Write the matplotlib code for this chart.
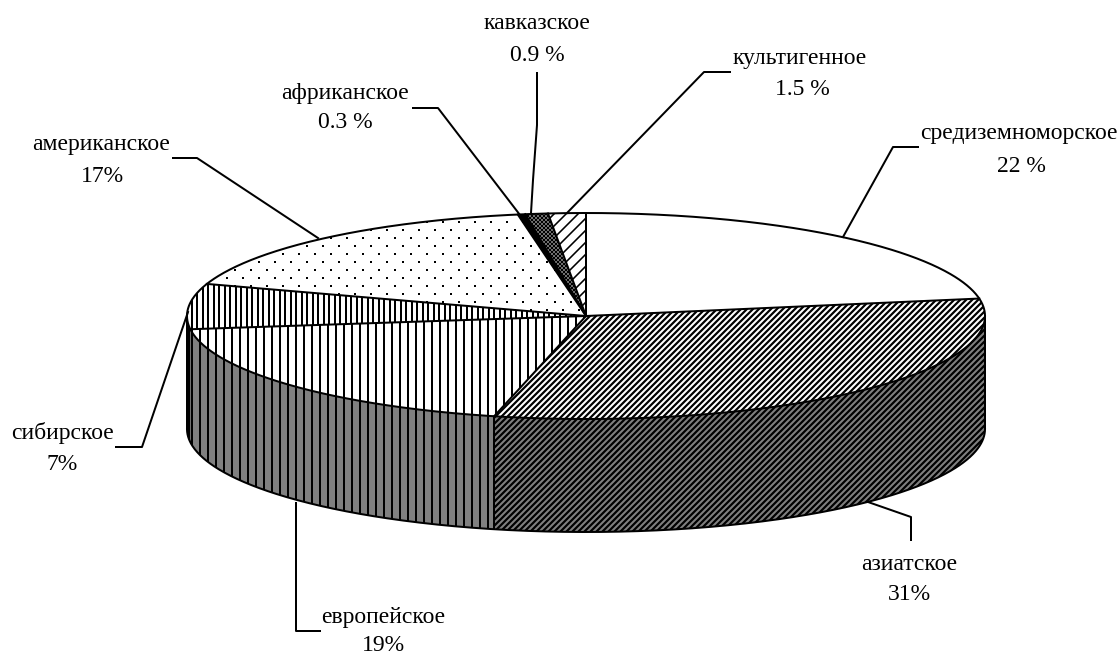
import numpy as np
import matplotlib
matplotlib.use('Agg')
import matplotlib.pyplot as plt
from matplotlib.patches import Polygon
from matplotlib.collections import LineCollection

plt.rcParams['font.family'] = ['Liberation Serif', 'DejaVu Serif']

# Chart values, clockwise from 12 o'clock
names = ['средиземноморское', 'азиатское', 'европейское', 'сибирское',
         'американское', 'африканское', 'кавказское', 'культигенное']
values = [22, 31, 19, 7, 17, 0.3, 0.9, 1.5]
value_labels = ['22 %', '31%', '19%', '7%', '17%', '0.3 %', '0.9 %', '1.5 %']

# Label anchors (centre x, baseline y) and leader lines in pixels
name_pos = [(1019, 139), (909, 570), (383, 623), (62, 439),
            (101, 150), (345, 99), (537, 29), (800, 64)]
value_pos = [(1021, 172), (909, 600), (383, 651), (62, 470),
             (102, 182), (345, 128), (537, 61), (802, 95)]
leaders = [
    [(843, 237), (893, 147), (918, 147)],
    [(868, 502), (911, 517), (911, 540)],
    [(296, 503), (296, 631), (320, 631)],
    [(188, 312), (142, 447), (116, 447)],
    [(318, 238), (197, 158), (173, 158)],
    [(520, 215), (438, 108), (413, 108)],
    [(531, 213), (533, 180), (537, 125), (537, 73)],
    [(567, 213), (704, 72), (730, 72)],
]

cx, cy = 586, 316
rx, ry = 399, 103
depth = 113

fig = plt.figure(figsize=(11.2, 6.54), dpi=100)
ax = fig.add_axes([0, 0, 1, 1])
ax.set_xlim(0, 1120)
ax.set_ylim(654, 0)
ax.set_axis_off()

px = 72 / fig.dpi  # one pixel in points


def rim(t1, t2, dy=0):
    t = np.radians(np.linspace(t1, t2, max(int(abs(t2 - t1) * 3), 2)))
    return np.column_stack([cx + rx * np.cos(t), cy - ry * np.sin(t) + dy])


def add_lines(patch, kind, pitch, lw):
    # hatch lines clipped to the slice
    c = np.arange(-1200, 2400, pitch)
    if kind == 'v':
        segs = [[(x, 0), (x, 654)] for x in c]
    elif kind == '/':
        segs = [[(x, 0), (x - 654, 654)] for x in c]
    else:
        segs = [[(x, 0), (x + 654, 654)] for x in c]
    lc = LineCollection(segs, colors='black', linewidths=lw * px, zorder=patch.get_zorder())
    ax.add_collection(lc)
    lc.set_clip_path(patch)


def add_dots(patch):
    xs, ys = [], []
    for i, y in enumerate(np.arange(206, 340, 8)):
        row = np.arange(187 + (8 if i % 2 else 0), 600, 16)
        xs.extend(row)
        ys.extend([y] * len(row))
    dots = ax.scatter(xs, ys, s=(2.4 * px) ** 2, c='black', marker='s', linewidths=0,
                      zorder=patch.get_zorder())
    dots.set_clip_path(patch)


# slice angles, measured counter-clockwise from 3 o'clock
share = np.array(values) / sum(values) * 360
edges = 90 - np.concatenate([[0], np.cumsum(share)])
start = dict(zip(names, edges[:-1]))
end = dict(zip(names, edges[1:]))


def side(name, fc):
    # wall below the visible front half of the rim
    t1 = min(start[name], 0)
    t2 = max(end[name], -180)
    top = rim(t1, t2)
    low = rim(t2, t1, depth)
    p = Polygon(np.vstack([top, low]), closed=True, fc=fc, ec='none', zorder=2)
    ax.add_patch(p)
    return p


def wedge(name, fc='white'):
    pts = np.vstack([[(cx, cy)], rim(start[name], end[name])])
    p = Polygon(pts, closed=True, fc=fc, ec='none', zorder=4)
    ax.add_patch(p)
    return p


def outline(pts, z):
    ax.plot(pts[:, 0], pts[:, 1], color='black', lw=2 * px, zorder=z, solid_joinstyle='round')


# side walls
p = side('азиатское', '#808080')
add_lines(p, '/', 6, 2.2)
p = side('европейское', '#808080')
add_lines(p, 'v', 8, 2)
side('сибирское', 'black')

# wall outlines
outline(rim(0, -180, depth), 3)
for x_t in [0, end['азиатское'], -180]:
    e = rim(x_t, x_t - 1)[0]
    outline(np.array([e, e + [0, depth]]), 3)

# top face
wedge('средиземноморское')
p = wedge('азиатское')
add_lines(p, '/', 6, 2.2)
p = wedge('европейское')
add_lines(p, 'v', 8, 2)
p = wedge('сибирское')
add_lines(p, 'v', 5.5, 2)
p = wedge('американское')
add_dots(p)
wedge('африканское', 'black')
p = wedge('кавказское')
add_lines(p, '/', 4, 1.5)
add_lines(p, '\\', 4, 1.5)
p = wedge('культигенное')
add_lines(p, '/', 12, 1.6)

# top rim and slice borders
outline(rim(0, 360), 6)
for e in edges:
    q = rim(e, e - 1)[0]
    outline(np.array([(cx, cy), q]), 6)

# leaders
for pts in leaders:
    pts = np.array(pts)
    ax.plot(pts[:, 0], pts[:, 1], color='black', lw=2 * px, zorder=7)

# labels
for s, (x, y) in zip(names, name_pos):
    ax.text(x, y, s, ha='center', va='baseline', fontsize=17, color='black', zorder=8)
for s, (x, y) in zip(value_labels, value_pos):
    ax.text(x, y, s, ha='center', va='baseline', fontsize=17, color='black', zorder=8)

fig.savefig('out.png', dpi=100, facecolor='white')
